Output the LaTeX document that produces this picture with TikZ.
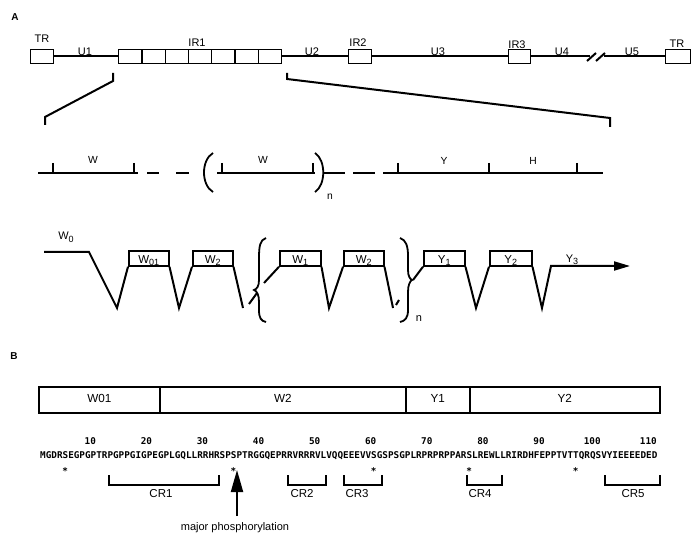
\documentclass[tikz,border=0pt]{standalone}
\usepackage{fontspec}
\setmainfont{Liberation Sans}
\newfontfamily\seqfont{DejaVu Sans Mono}
\usetikzlibrary{arrows.meta}
\newcommand\lsub[1]{\raisebox{-2.2pt}{\fontsize{9}{9}\selectfont #1}}
\tikzset{
  hd/.style={font=\fontsize{10}{10}\selectfont\bfseries, inner sep=0, anchor=base},
  lbl/.style={font=\fontsize{11}{11}\selectfont, inner sep=0, anchor=base},
  slbl/.style={font=\fontsize{10.3}{10.3}\selectfont, inner sep=0, anchor=base},
  blbl/.style={font=\fontsize{11.5}{11.5}\selectfont, inner sep=0, anchor=base},
  gbox/.style={draw, line width=1.3pt, minimum height=14pt, inner sep=0, anchor=west},
  gline/.style={line width=2pt},
  mline/.style={line width=1.3pt},
  spl/.style={line width=2pt, line join=miter},
  brc/.style={line width=1.8pt},
  ebox/.style={draw, line width=1.5pt, minimum height=15pt, inner sep=0, anchor=west,
    font=\fontsize{11.5}{11.5}\selectfont, text height=10pt, text depth=0pt},
  pbox/.style={draw, line width=1.6pt, minimum height=26pt, inner sep=0, anchor=west,
    font=\fontsize{11.7}{11.7}\selectfont, text height=4.6pt, text depth=0pt},
  seq/.style={font=\seqfont\bfseries\fontsize{9.32}{9.32}\selectfont, inner sep=0, anchor=base},
  brk/.style={line width=1.6pt},
}
\begin{document}
\begin{tikzpicture}[x=1pt,y=-1pt]
\useasboundingbox (0,0) rectangle (699,540);
\fill[white] (0,0) rectangle (699,540);

% ---------------- Panel A ----------------
\node[hd] (la) at (15,21) {A};

% top genome row
\node[gbox, minimum width=23pt] (tr1) at (30,56.5) {};
\foreach \i in {0,...,6}
  \node[gbox, minimum width=23.29pt] (ira\i) at ({118+\i*23.29},56.5) {};
\node[gbox, minimum width=23pt] (irb) at (348,56.5) {};
\node[gbox, minimum width=22pt] (irc) at (508,56.5) {};
\node[gbox, minimum width=25pt] (tr2) at (665,56.5) {};
\coordinate (bk1) at (590,56.5);
\coordinate (bk2) at (604,56.5);
\draw[gline] (tr1.east) -- (ira0.west);
\draw[gline] (ira6.east) -- (irb.west);
\draw[gline] (irb.east) -- (irc.west);
\draw[gline] (irc.east) -- (bk1);
\draw[gline] (bk2) -- (tr2.west);
\draw[gline] (587,61) -- (596,53);
\draw[gline] (596,61) -- (605,53);

\node[lbl] (ltr1) at (42,43) {TR};
\node[lbl] (lu1) at (85,55.5) {U1};
\node[lbl] (lir1) at (197,46.5) {IR1};
\node[lbl] (lu2) at (312,55.5) {U2};
\node[lbl] (lir2) at (358,46.5) {IR2};
\node[lbl] (lu3) at (438,55.5) {U3};
\node[lbl] (lir3) at (517,49) {IR3};
\node[lbl] (lu4) at (562,55.5) {U4};
\node[lbl] (lu5) at (632,55.5) {U5};
\node[lbl] (ltr2) at (677,48) {TR};

% expansion lines
\coordinate (el0) at (113,73);
\coordinate (el1) at (113,81);
\coordinate (el2) at (45,117);
\coordinate (el3) at (45,125);
\coordinate (er0) at (287,73);
\coordinate (er1) at (287,79);
\coordinate (er2) at (610,118);
\coordinate (er3) at (610,127);
\draw[gline] (el0) -- (el1) -- (el2) -- (el3);
\draw[gline] (er0) -- (er1) -- (er2) -- (er3);

% repeat-structure row
\draw[mline] (38,173) -- (138,173);
\draw[mline] (53,163) -- (53,173) (134,163) -- (134,173);
\draw[mline] (147,173) -- (159,173) (176,173) -- (189,173);
\draw[brc] (213,153) .. controls (201,160) and (201,185) .. (213,192);
\draw[mline] (217,173) -- (315,173);
\draw[mline] (222,163) -- (222,173) (313,163) -- (313,173);
\draw[brc] (315,153) .. controls (326,160) and (326,185) .. (315,192);
\draw[mline] (323,173) -- (345,173);
\draw[mline] (353,173) -- (375,173) (383,173) -- (390,173);
\draw[mline] (390,173) -- (603,173);
\draw[mline] (398,163) -- (398,173) (489,163) -- (489,173) (577,163) -- (577,173);
\node[slbl] (lw1) at (93,164) {W};
\node[slbl] (lw2) at (263,164) {W};
\node[slbl] (ln1) at (330,200) {n};
\node[slbl] (ly) at (444,164.5) {Y};
\node[slbl] (lh) at (533,164.5) {H};

% splicing row
\node[ebox, minimum width=40pt] (w01) at (128,258.5) {W\lsub{01}};
\node[ebox, minimum width=40pt] (w2a) at (192,258.5) {W\lsub{2}};
\node[ebox, minimum width=41pt] (w1) at (279,258.5) {W\lsub{1}};
\node[ebox, minimum width=40pt] (w2b) at (343,258.5) {W\lsub{2}};
\node[ebox, minimum width=41pt] (y1) at (423,258.5) {Y\lsub{1}};
\node[ebox, minimum width=42pt] (y2) at (489,258.5) {Y\lsub{2}};
\node[lbl] (lw0) at (66,240) {W\lsub{0}};
\node[lbl] (ly3) at (572,262) {Y\lsub{3}};
\node[lbl] (ln2) at (419,321.5) {n};

\coordinate (s0) at (44,252);
\coordinate (s1) at (89,252);
\coordinate (v1) at (117,308);
\coordinate (v2) at (179,308);
\coordinate (v3) at (243,308);
\coordinate (v4) at (329,308);
\coordinate (v5) at (393,308);
\coordinate (v6) at (476,308);
\coordinate (v7) at (542,308);
\coordinate (u7) at (551,266);
\coordinate (aend) at (630,266);
\draw[spl] (s0) -- (s1) -- (v1) -- (w01.south west);
\draw[spl] (w01.south east) -- (v2) -- (w2a.south west);
\draw[spl] (w2a.south east) -- (v3);
\draw[spl] (249,304) -- (257,293);
\draw[spl] (264,283) -- (w1.south west);
\draw[spl] (w1.south east) -- (v4) -- (w2b.south west);
\draw[spl] (w2b.south east) -- (v5);
\draw[spl] (396,305) -- (399,300);
\draw[spl] (413,280) -- (y1.south west);
\draw[spl] (y1.south east) -- (v6) -- (y2.south west);
\draw[spl, -{Triangle[length=16pt,width=9pt]}] (y2.south east) -- (v7) -- (u7) -- (aend);

% braces
\draw[brc] (266,238) .. controls (260,240) and (259,246) .. (259,258)
  -- (259,280) .. controls (259,286) and (257,289) .. (254,290)
  .. controls (257,291) and (259,295) .. (259,302)
  -- (259,310) .. controls (259,318) and (261,321) .. (266,322);
\draw[brc] (400,238) .. controls (406,240) and (408,246) .. (408,256)
  -- (408,270) .. controls (408,276) and (410,279) .. (412,280)
  .. controls (410,281) and (408,285) .. (408,292)
  -- (408,310) .. controls (408,318) and (405,321) .. (400,322);

% ---------------- Panel B ----------------
\node[hd] (lb) at (14,359) {B};
\node[pbox, minimum width=121pt] (b1) at (38,400) {W01};
\node[pbox, minimum width=246pt] (b2) at (159,400) {W2};
\node[pbox, minimum width=64pt] (b3) at (405,400) {Y1};
\node[pbox, minimum width=190pt] (b4) at (469,400) {Y2};

\foreach \k in {1,...,11}
  \node[seq, anchor=base east] (num\k) at ({40+\k*56.09},444.5) {\the\numexpr\k*10\relax};
\node[seq, anchor=base west] (seq) at (40,458.5)
  {MGDRSEGPGPTRPGPPGIGPEGPLGQLLRRHRSPSPTRGGQEPRRVRRRVLVQQEEEVVSGSPSGPLRPRPRPPARSLREWLLRIRDHFEPPTVTTQRQSVYIEEEEDED};
\foreach \k in {5,35,60,77,96}
  \node[seq] (st\k) at ({40+(\k-0.5)*5.609},474) {*};

% conserved regions
\draw[brk] (109,475) -- (109,485) -- (219,485) -- (219,475);
\draw[brk] (288,475) -- (288,485) -- (326,485) -- (326,475);
\draw[brk] (344,475) -- (344,485) -- (382,485) -- (382,475);
\draw[brk] (467,475) -- (467,485) -- (502,485) -- (502,475);
\draw[brk] (605,475) -- (605,485) -- (660,485) -- (660,475);
\node[blbl] (cr1) at (161,497) {CR1};
\node[blbl] (cr2) at (302,497) {CR2};
\node[blbl] (cr3) at (357,497) {CR3};
\node[blbl] (cr4) at (480,497.5) {CR4};
\node[blbl] (cr5) at (633,497) {CR5};

\node[lbl] (mp) at (235,530) {major phosphorylation};
\coordinate (pa0) at (237,516);
\coordinate (pa1) at (237,470);
\draw[line width=2pt, -{Triangle[length=22pt,width=12pt]}] (pa0) -- (pa1);
\end{tikzpicture}
\end{document}
